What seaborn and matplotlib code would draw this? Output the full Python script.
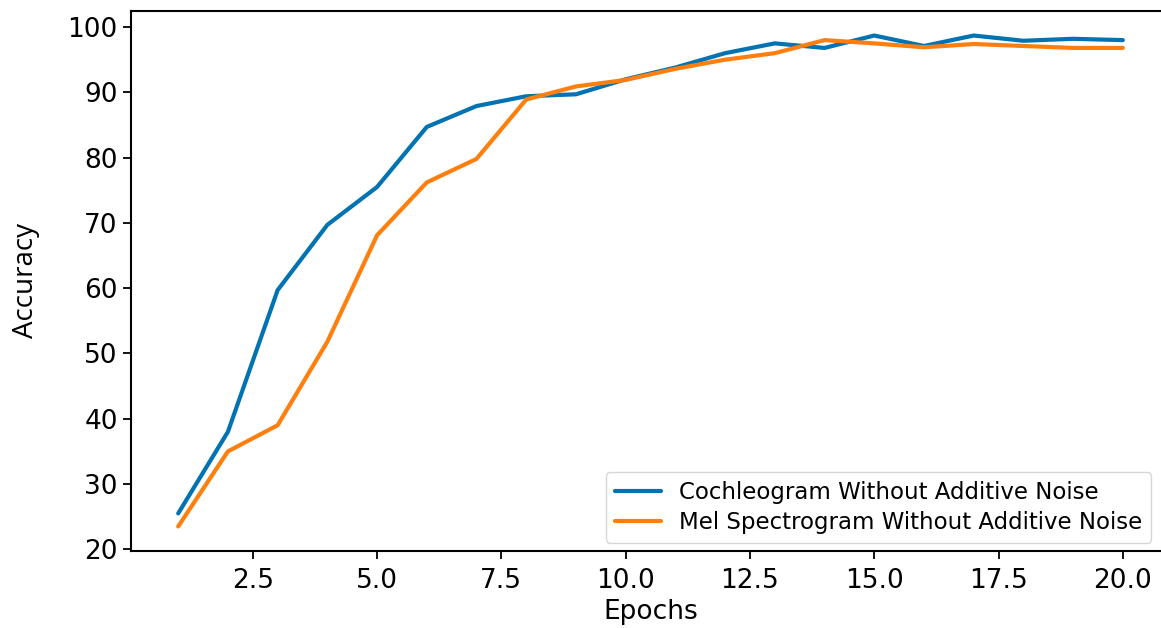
import numpy as np
import pandas as pd
import seaborn as sns
import matplotlib.pyplot as plt

sns.set_style("ticks")
plt.rcParams["font.family"] = ["DejaVu Sans"]
plt.rcParams["text.color"] = "black"
plt.rcParams["axes.labelcolor"] = "black"

# data
epochs = list(range(1, 21))
cochleogram = [25.5, 38.0, 59.7, 69.7, 75.5, 84.7, 87.9, 89.4, 89.7, 92.0,
               93.8, 96.0, 97.5, 96.8, 98.7, 97.1, 98.7, 97.9, 98.2, 98.0]
mel_spec = [23.5, 35.0, 39.0, 51.8, 68.1, 76.2, 79.8, 88.9, 90.9, 91.9,
            93.6, 95.0, 96.0, 98.0, 97.5, 96.9, 97.4, 97.1, 96.8, 96.8]
series_names = ["Cochleogram Without Additive Noise",
                "Mel Spectrogram Without Additive Noise"]
colors = ["#0173b2", "#ff7f0e"]

df = pd.DataFrame({
    "Epochs": epochs * 2,
    "Accuracy": cochleogram + mel_spec,
    "series": [series_names[0]] * len(epochs) + [series_names[1]] * len(epochs),
})

fig = plt.figure(figsize=(11.61, 6.28), dpi=100)
ax = fig.add_axes([0.1128, 0.1226, 0.895, 0.8599])

sns.lineplot(data=df, x="Epochs", y="Accuracy", hue="series",
             palette=colors, linewidth=3.0, ax=ax)

for side in ["left", "right", "top", "bottom"]:
    ax.spines[side].set_color("black")
    ax.spines[side].set_linewidth(1.5)
# the right edge of the frame falls outside the picture
ax.spines["right"].set_visible(False)
ax.tick_params(axis="both", labelsize=19, length=6, width=1.3,
               color="black", labelcolor="black")
ax.tick_params(axis="x", pad=6)

ax.set_xlabel("Epochs", fontsize=19, labelpad=4)
ax.set_ylabel("Accuracy", fontsize=20, family=["Open Sans", "DejaVu Sans"],
              labelpad=20)

ax.legend(title=None, loc="lower right", fontsize=16.5, labelspacing=0.3,
          bbox_to_anchor=(0.993, -0.006), handlelength=2.0, frameon=True)

fig.savefig("out.png", dpi=100)
plt.close(fig)
